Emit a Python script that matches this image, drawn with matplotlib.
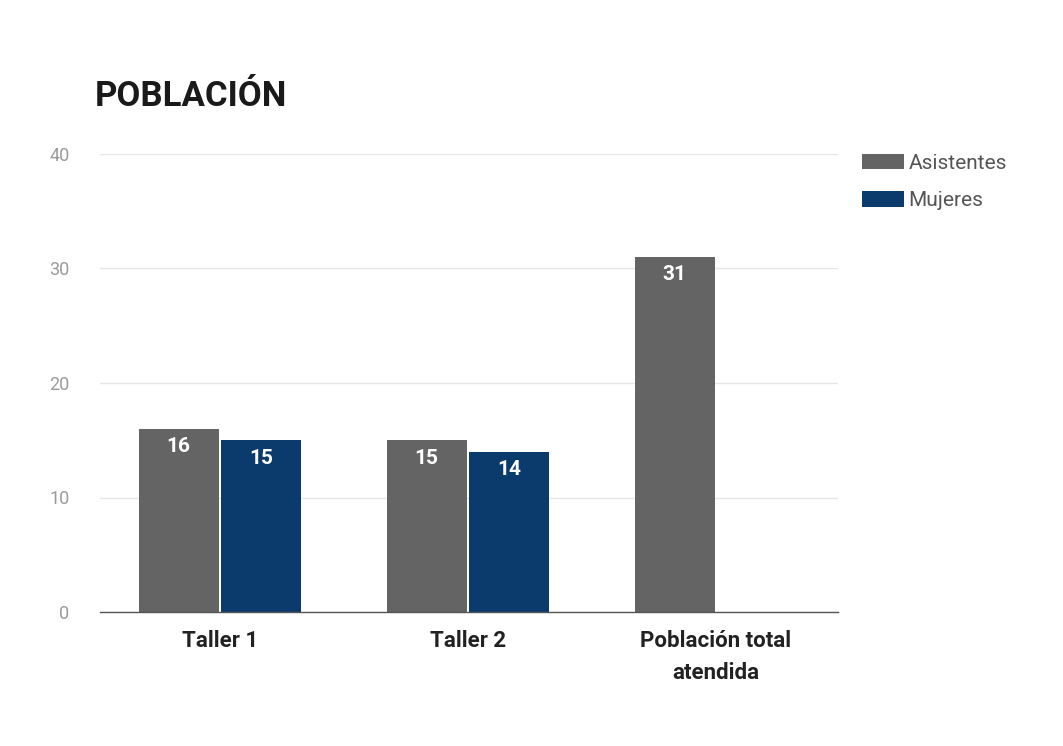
import matplotlib.pyplot as plt
import numpy as np

categories = ["Taller 1", "Taller 2", "Población total\natendida"]
asistentes = [16, 15, 31]
mujeres = [15, 14, None]
series_names = ["Asistentes", "Mujeres"]
y_ticks = [0, 10, 20, 30, 40]

gray = "#646464"
navy = "#0b3a6d"

plt.rcParams['font.family'] = ['Roboto', 'DejaVu Sans']

fig = plt.figure(figsize=(10.63, 7.46), dpi=100)
ax = fig.add_axes([100 / 1063, 134 / 746, 738 / 1063, 458 / 746])

x = np.arange(len(categories))
w = 0.323
off = 0.167

b1 = ax.bar(x - off, asistentes, width=w, color=gray, label=series_names[0], zorder=3)
m_x = [xi + off for xi, v in zip(x, mujeres) if v is not None]
m_v = [v for v in mujeres if v is not None]
b2 = ax.bar(m_x, m_v, width=w, color=navy, label=series_names[1], zorder=3)

for rect, v in zip(list(b1) + list(b2), asistentes + m_v):
    ax.annotate(str(v), (rect.get_x() + rect.get_width() / 2, v),
                xytext=(0, -6), textcoords="offset points",
                ha="center", va="top", color="white",
                fontsize=15, fontweight="bold", zorder=4)

ax.set_xlim(-0.484, 2.492)
ax.set_ylim(0, 40)
ax.set_yticks(y_ticks)
ax.set_xticks(x)
ax.set_xticklabels(categories, fontsize=16, fontweight="bold", color="#222222",
                   linespacing=1.6)
ax.tick_params(axis="x", length=0, pad=13)
ax.tick_params(axis="y", length=0, pad=22, labelsize=13, labelcolor="#9a9a9a")

ax.grid(axis="y", color="#e6e6e6", linewidth=1, zorder=0)
for s in ["top", "right", "left"]:
    ax.spines[s].set_visible(False)
ax.spines["bottom"].set_color("#555555")
ax.spines["bottom"].set_linewidth(1.0)
ax.spines["bottom"].set_zorder(5)

fig.text(95 / 1063, 1 - 106 / 746, "POBLACIÓN", fontsize=25, fontweight="bold",
         color="#1a1a1a", va="baseline", ha="left")

fig.legend(handles=[b1, b2], labels=series_names, loc="upper left",
           bbox_to_anchor=(843 / 1063, 1 - 135 / 746), frameon=False,
           fontsize=15, labelcolor="#555555", handlelength=2.05, handleheight=0.75,
           labelspacing=0.89, handletextpad=0.2)

fig.savefig("out.png", dpi=100, facecolor="white")
